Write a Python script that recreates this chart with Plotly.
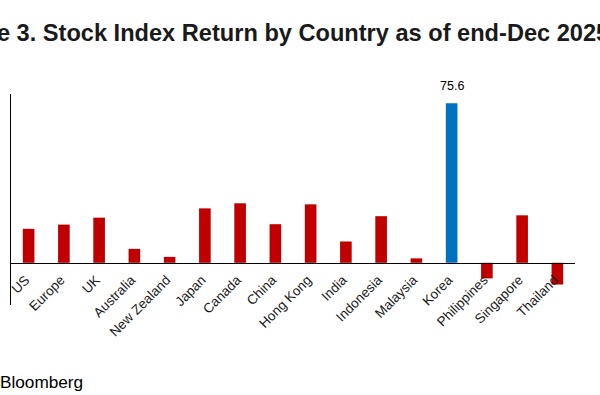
import plotly.graph_objects as go

countries = ["US", "Europe", "UK", "Australia", "New Zealand", "Japan", "Canada", "China",
             "Hong Kong", "India", "Indonesia", "Malaysia", "Korea", "Philippines",
             "Singapore", "Thailand"]
returns = [16.1, 18.1, 21.4, 6.6, 2.8, 25.8, 28.2, 18.3,
           27.7, 10.1, 22.1, 2.1, 75.6, -7.4, 22.5, -10.3]
highlight = "Korea"

RED = "#C00000"
BLUE = "#0070C0"
FONT = "Arial, Liberation Sans, sans-serif"

colors = [BLUE if c == highlight else RED for c in countries]

fig = go.Figure()
fig.add_trace(go.Bar(x=countries, y=returns, marker=dict(color=colors, line=dict(width=0)),
                     width=0.33, showlegend=False, hoverinfo="x+y"))

hi = countries.index(highlight)
fig.add_annotation(x=countries[hi], y=returns[hi], text=f"{returns[hi]:.1f}",
                   showarrow=False, yanchor="bottom", yshift=8,
                   font=dict(family=FONT, size=12.5, color="#000000"))

fig.add_annotation(xref="paper", yref="paper", x=-0.0235, y=-0.365, xanchor="left",
                   yanchor="middle", text="Bloomberg", showarrow=False,
                   font=dict(family=FONT, size=17.2, color="#000000"))

fig.update_layout(
    width=600, height=395,
    margin=dict(l=10.5, r=24.5, t=94, b=90, autoexpand=False),
    paper_bgcolor="white", plot_bgcolor="white",
    title=dict(text="<b>Figure 3. Stock Index Return by Country as of end-Dec 2025 (%)</b>",
               xref="container", x=0.492, xanchor="center",
               yref="container", y=0.917, yanchor="middle",
               font=dict(family=FONT, size=23.6, color="#1a1a1a")),
    font=dict(family=FONT),
)
fig.update_xaxes(anchor="free", position=0.2, showline=True, linecolor="#000000",
                 linewidth=1, ticks="", tickangle=-45, showgrid=False, zeroline=False,
                 automargin=False, ticklabelshift=-3, ticklabelstandoff=3,
                 tickfont=dict(family=FONT, size=13.5, color="#1a1a1a"))
fig.update_yaxes(range=[-20, 80], showline=True, linecolor="#000000", linewidth=1,
                 showticklabels=False, ticks="", showgrid=False, zeroline=False,
                 automargin=False)

fig.write_html("out.html", config={"displayModeBar": False},
               post_script="document.body.style.margin='0';document.body.style.overflow='hidden';")
